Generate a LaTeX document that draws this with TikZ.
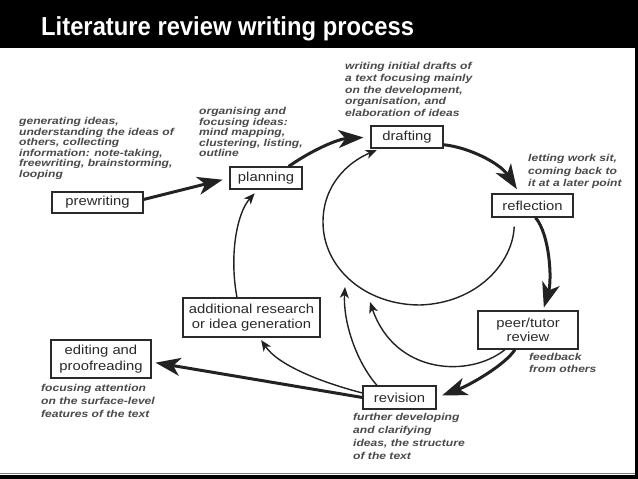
\documentclass[tikz,border=0pt]{standalone}
\usepackage{fontspec}
\setmainfont{Liberation Sans}
\newfontfamily\boxfont[FakeStretch=1.14]{Liberation Sans}
\newfontfamily\annfont[FakeStretch=1.21]{Liberation Sans}
\newfontfamily\titlefont[FakeStretch=0.915]{Liberation Sans}
\usetikzlibrary{arrows.meta}
\definecolor{ink}{HTML}{222222}
\definecolor{boxink}{HTML}{2A2A2A}
\definecolor{anntext}{HTML}{4A4A4A}
\begin{document}
\begin{tikzpicture}[x=1pt,y=-1pt,
  stagebox/.style={draw=boxink, line width=1.1pt, fill=white, inner sep=0pt, text=boxink, font=\boxfont\fontsize{13}{15.5}\selectfont, align=center},
  note/.style={anchor=north west, inner sep=0pt, text=anntext, align=left},
  bigarrow/.style={draw=ink, line width=3pt, -{Stealth[length=25pt,width=18pt,inset=7pt]}},
  thinarrow/.style={draw=ink, line width=1.4pt, -{Stealth[length=11pt,width=9pt,inset=3pt]}},
]
\useasboundingbox (0,0) rectangle (638,479);
\fill[white] (0,0) rectangle (638,479);
\fill[black] (0,0) rectangle (638,48);
\node[anchor=base west, inner sep=0pt, text=white, font=\titlefont\bfseries\fontsize{26}{30}\selectfont] (title) at (41,35) {Literature review writing process};
\fill[black] (634.5,48) rectangle (638,479);
\fill[black] (0,474.5) rectangle (638,479);
\draw[gray, line width=0.8pt] (0,473.2) -- (634.5,473.2);

% stages
\node[stagebox, minimum width=91pt, minimum height=21pt] (prewriting) at (97.5,202.5) {prewriting};
\node[stagebox, minimum width=72pt, minimum height=22pt] (planning) at (266,178) {planning};
\node[stagebox, minimum width=72pt, minimum height=22pt] (drafting) at (407,137) {drafting};
\node[stagebox, minimum width=81pt, minimum height=23pt] (reflection) at (532.5,205.5) {reflection};
\node[stagebox, minimum width=100pt, minimum height=38pt, font=\boxfont\fontsize{13}{14.5}\selectfont] (peer) at (528,330) {peer/tutor\\review};
\node[stagebox, minimum width=73pt, minimum height=23pt] (revision) at (399.5,397.5) {revision};
\node[stagebox, minimum width=137pt, minimum height=39pt] (additional) at (251.5,317.5) {additional research\\or idea generation};
\node[stagebox, minimum width=100pt, minimum height=38pt] (editing) at (101,359) {editing and\\proofreading};

% notes
\node[note, font=\annfont\bfseries\itshape\fontsize{10}{10.5}\selectfont] (notepre) at (19,117.5) {generating ideas,\\understanding the ideas of\\others, collecting\\information: note-taking,\\freewriting, brainstorming,\\looping};
\node[note, font=\annfont\bfseries\itshape\fontsize{10}{10.5}\selectfont] (noteplan) at (199,107.5) {organising and\\focusing ideas:\\mind mapping,\\clustering, listing,\\outline};
\node[note, font=\annfont\bfseries\itshape\fontsize{10}{11.6}\selectfont] (notedraft) at (345,62.5) {writing initial drafts of\\a text focusing mainly\\on the development,\\organisation, and\\elaboration of ideas};
\node[note, font=\annfont\bfseries\itshape\fontsize{10}{12.3}\selectfont] (noterefl) at (528,154.5) {letting work sit,\\coming back to\\it at a later point};
\node[note, font=\annfont\bfseries\itshape\fontsize{10}{12}\selectfont] (notepeer) at (529,353.5) {feedback\\from others};
\node[note, font=\annfont\bfseries\itshape\fontsize{10}{12.7}\selectfont] (noterev) at (353,413.5) {further developing\\and clarifying\\ideas, the structure\\of the text};
\node[note, font=\annfont\bfseries\itshape\fontsize{10}{13}\selectfont] (noteedit) at (41,384) {focusing attention\\on the surface-level\\features of the text};

% connectors
\draw[bigarrow, shorten >=7pt] ([yshift=3pt]prewriting.east) -- (planning.west);
\draw[bigarrow, shorten >=7pt] (planning.27) .. controls (312,150) and (338,139) .. (drafting.west);
\draw[bigarrow, shorten >=5pt] (drafting.-12) .. controls (468,147) and (500,163) .. (reflection.137);
\draw[bigarrow, shorten >=3pt] ([xshift=3pt]reflection.south) .. controls (550,235) and (552,280) .. ([xshift=15pt]peer.north);
\draw[thinarrow, shorten <=9pt, shorten >=4pt] ([xshift=-18pt]reflection.south) .. controls (513,262) and (478,303) .. (420,305) .. controls (365,305) and (323,268) .. (323,222) .. controls (323,185) and (348,162) .. ([xshift=10pt]drafting.south west);
\coordinate (fbtip) at (370,302);
\draw[thinarrow] ([xshift=-23pt]peer.south) .. controls (470,378) and (395,375) .. (fbtip);
\draw[bigarrow, shorten >=6pt] ([xshift=-13pt]peer.south) .. controls (505,365) and (470,385) .. (revision.east);
\coordinate (rvtip) at (345,287);
\draw[thinarrow] ([xshift=-22.5pt]revision.north) .. controls (355,360) and (343,320) .. (rvtip);
\draw[thinarrow, shorten >=3pt] ([yshift=4.5pt]revision.west) .. controls (320,382) and (278,365) .. ([xshift=8pt]additional.south);
\draw[bigarrow, shorten >=4pt] (revision.west) -- ([yshift=-3pt]editing.east);
\draw[thinarrow, shorten >=5pt] ([xshift=-14.5pt]additional.north) .. controls (229,255) and (237,213) .. ([xshift=-8pt]planning.south);
\end{tikzpicture}
\end{document}
